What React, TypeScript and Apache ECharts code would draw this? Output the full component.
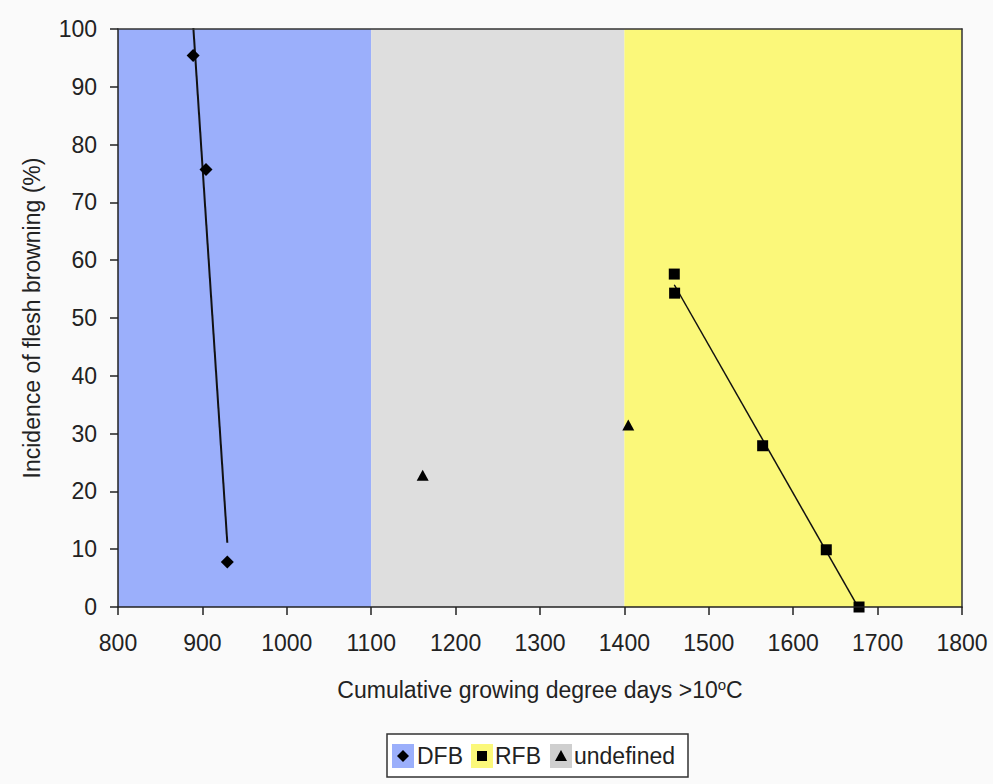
import React, { useEffect, useRef } from "react";
import * as echarts from "echarts";

// ---- data ----
const dfbX = [889, 904.3, 929.5];
const dfbY = [95.4, 75.7, 7.8];
const rfbX = [1459.1, 1459.5, 1563.8, 1639.2, 1678];
const rfbY = [57.6, 54.3, 27.9, 9.9, 0];
const undefX = [1161, 1404.6];
const undefY = [22.8, 31.5];
const bandNames = ["DFB", "undefined", "RFB"];
const bandStarts = [800, 1100, 1400];
const bandEnds = [1100, 1400, 1800];
const bandColors = ["#9BAFFB", "#DEDEDE", "#FBF87A"];
const xTicks = { min: 800, max: 1800, interval: 100 };
const yTicks = { min: 0, max: 100, interval: 10 };

const FONT = "'Liberation Sans', Arial, sans-serif";
const TXT = "#222";
const FS = 23;

function fit(xs: number[], ys: number[]): number[][] {
  const n = xs.length;
  const mx = xs.reduce((a, b) => a + b, 0) / n;
  const my = ys.reduce((a, b) => a + b, 0) / n;
  let sxy = 0, sxx = 0;
  for (let i = 0; i < n; i++) {
    sxy += (xs[i] - mx) * (ys[i] - my);
    sxx += (xs[i] - mx) * (xs[i] - mx);
  }
  const b = sxy / sxx;
  const a = my - b * mx;
  const x0 = Math.min(...xs), x1 = Math.max(...xs);
  return [[x0, a + b * x0], [x1, a + b * x1]];
}

const pts = (xs: number[], ys: number[]) => xs.map((x, i) => [x, ys[i]]);

export default function App() {
  const ref = useRef<HTMLDivElement>(null);
  useEffect(() => {
    if (!ref.current) return;
    const chart = echarts.init(ref.current, undefined, { renderer: "svg" });
    const legendItems = [
      { name: "DFB", color: bandColors[0], sym: "diamond", rx: 392, tx: 417 },
      { name: "RFB", color: bandColors[2], sym: "square", rx: 471, tx: 495 },
      { name: "undefined", color: "#CFCFCF", sym: "triangle", rx: 550, tx: 574 },
    ];
    const legendGraphics: any[] = [
      {
        type: "rect",
        shape: { x: 387, y: 734, width: 301, height: 43 },
        style: { fill: "#fff", stroke: "#333", lineWidth: 1.5 },
      },
    ];
    legendItems.forEach((it) => {
      const cx = it.rx + 11;
      const cy = 756;
      legendGraphics.push({
        type: "rect",
        shape: { x: it.rx, y: 744, width: 22, height: 24 },
        style: { fill: it.color },
      });
      if (it.sym === "diamond") {
        legendGraphics.push({
          type: "polygon",
          shape: { points: [[cx, cy - 6], [cx + 6, cy], [cx, cy + 6], [cx - 6, cy]] },
          style: { fill: "#000" },
        });
      } else if (it.sym === "square") {
        legendGraphics.push({
          type: "rect",
          shape: { x: cx - 5, y: cy - 5, width: 10, height: 10 },
          style: { fill: "#000" },
        });
      } else {
        legendGraphics.push({
          type: "polygon",
          shape: { points: [[cx, cy - 6], [cx + 6, cy + 5], [cx - 6, cy + 5]] },
          style: { fill: "#000" },
        });
      }
      legendGraphics.push({
        type: "text",
        style: {
          x: it.tx,
          y: cy,
          text: it.name,
          fill: TXT,
          font: `${FS}px ${FONT}`,
          verticalAlign: "middle",
          textAlign: "left",
        },
      });
    });

    const bands = bandStarts.map((s, i) => [
      { xAxis: s, name: bandNames[i], itemStyle: { color: bandColors[i], opacity: 1 } },
      { xAxis: bandEnds[i] },
    ]);

    chart.setOption({
      animation: false,
      backgroundColor: "#FAFAFA",
      textStyle: { fontFamily: FONT },
      grid: { left: 118, right: 31, top: 29, bottom: 177, containLabel: false },
      xAxis: [
        {
          type: "value",
          min: xTicks.min,
          max: xTicks.max,
          interval: xTicks.interval,
          z: 10,
          splitLine: { show: false },
          axisLine: { show: true, onZero: false, lineStyle: { color: "#222", width: 1.5 } },
          axisTick: { show: true, inside: false, length: 8, lineStyle: { color: "#222", width: 1.5 } },
          axisLabel: {
            color: TXT,
            fontSize: FS,
            fontFamily: FONT,
            margin: 24,
            formatter: (v: number) => String(v),
          },
          name: "{a|Cumulative growing degree days >10}{s|o}{a|C}",
          nameLocation: "middle",
          nameGap: 70,
          nameTextStyle: {
            rich: {
              a: { fontSize: FS, fontFamily: FONT, color: TXT, lineHeight: 26 },
              s: { fontSize: 15, fontFamily: FONT, color: TXT, verticalAlign: "top", lineHeight: 14, padding: [0, 0, 8, 0] },
            },
          },
        },
        {
          type: "value",
          position: "top",
          min: xTicks.min,
          max: xTicks.max,
          z: 10,
          axisLine: { show: true, onZero: false, lineStyle: { color: "#333", width: 1.5 } },
          axisTick: { show: false },
          axisLabel: { show: false },
          splitLine: { show: false },
        },
      ],
      yAxis: [
        {
          type: "value",
          min: yTicks.min,
          max: yTicks.max,
          interval: yTicks.interval,
          z: 10,
          splitLine: { show: false },
          axisLine: { show: true, onZero: false, lineStyle: { color: "#222", width: 1.5 } },
          axisTick: { show: true, inside: false, length: 8, lineStyle: { color: "#222", width: 1.5 } },
          axisLabel: { color: TXT, fontSize: FS, fontFamily: FONT, margin: 21 },
          name: "Incidence of flesh browning (%)",
          nameLocation: "middle",
          nameGap: 75,
          nameTextStyle: { color: TXT, fontSize: FS, fontFamily: FONT },
        },
        {
          type: "value",
          position: "right",
          min: yTicks.min,
          max: yTicks.max,
          z: 10,
          axisLine: { show: true, onZero: false, lineStyle: { color: "#333", width: 1.5 } },
          axisTick: { show: false },
          axisLabel: { show: false },
          splitLine: { show: false },
        },
      ],
      graphic: legendGraphics,
      series: [
        {
          name: "bands",
          type: "scatter",
          data: [],
          silent: true,
          markArea: { silent: true, label: { show: false }, data: bands },
        },
        {
          name: "DFB trend",
          type: "line",
          data: fit(dfbX, dfbY),
          showSymbol: false,
          symbol: "none",
          clip: true,
          lineStyle: { color: "#111", width: 2 },
          z: 3,
        },
        {
          name: "RFB trend",
          type: "line",
          data: fit(rfbX, rfbY),
          showSymbol: false,
          symbol: "none",
          clip: true,
          lineStyle: { color: "#111", width: 1.5 },
          z: 3,
        },
        {
          name: "DFB",
          type: "scatter",
          data: pts(dfbX, dfbY),
          symbol: "diamond",
          symbolSize: [13, 13],
          itemStyle: { color: "#000", opacity: 1 },
          z: 5,
        },
        {
          name: "RFB",
          type: "scatter",
          data: pts(rfbX, rfbY),
          symbol: "rect",
          symbolSize: [11, 11],
          itemStyle: { color: "#000", opacity: 1 },
          z: 5,
        },
        {
          name: "undefined",
          type: "scatter",
          data: pts(undefX, undefY),
          symbol: "triangle",
          symbolSize: [12, 11],
          itemStyle: { color: "#000", opacity: 1 },
          z: 5,
        },
      ],
    });
    return () => chart.dispose();
  }, []);
  return (
    <div
      ref={ref}
      style={{ position: "fixed", left: 0, top: 0, width: 993, height: 784 }}
    />
  );
}
